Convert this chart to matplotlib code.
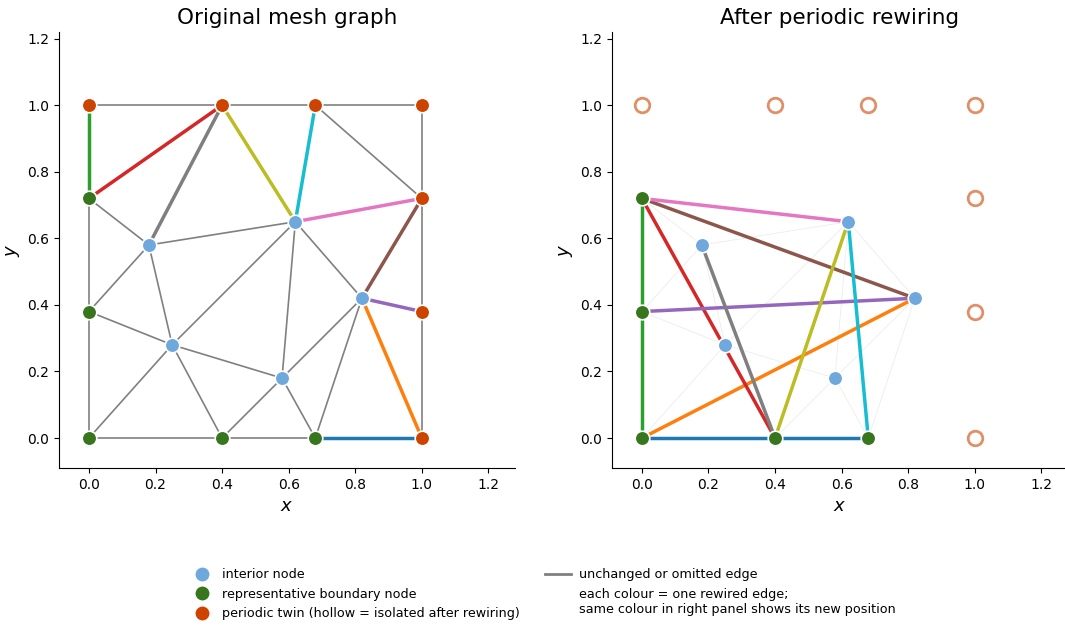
import matplotlib.pyplot as plt
from matplotlib.lines import Line2D

# node coordinates
interior = [(0.18, 0.58), (0.25, 0.28), (0.62, 0.65), (0.58, 0.18), (0.82, 0.42)]
boundary = [(0.0, 0.72), (0.0, 0.38), (0.0, 0.0), (0.40, 0.0), (0.68, 0.0)]
twins = [(0.0, 1.0), (0.40, 1.0), (0.68, 1.0), (1.0, 1.0), (1.0, 0.72), (1.0, 0.38), (1.0, 0.0)]

# plain mesh edges that survive rewiring (between interior/boundary nodes)
kept_edges = [
    ((0.0, 0.72), (0.0, 0.38)), ((0.0, 0.72), (0.18, 0.58)), ((0.18, 0.58), (0.62, 0.65)),
    ((0.18, 0.58), (0.0, 0.38)), ((0.18, 0.58), (0.25, 0.28)), ((0.0, 0.38), (0.25, 0.28)),
    ((0.0, 0.38), (0.0, 0.0)), ((0.0, 0.0), (0.25, 0.28)), ((0.0, 0.0), (0.40, 0.0)),
    ((0.25, 0.28), (0.40, 0.0)), ((0.25, 0.28), (0.62, 0.65)), ((0.25, 0.28), (0.58, 0.18)),
    ((0.40, 0.0), (0.58, 0.18)), ((0.58, 0.18), (0.62, 0.65)), ((0.58, 0.18), (0.82, 0.42)),
    ((0.58, 0.18), (0.68, 0.0)), ((0.40, 0.0), (0.68, 0.0)), ((0.62, 0.65), (0.82, 0.42)),
    ((0.68, 0.0), (0.82, 0.42)),
]
# edges between twins only (dropped after rewiring)
twin_edges = [
    ((0.0, 1.0), (0.40, 1.0)), ((0.40, 1.0), (0.68, 1.0)), ((0.68, 1.0), (1.0, 1.0)),
    ((0.68, 1.0), (1.0, 0.72)), ((1.0, 1.0), (1.0, 0.72)), ((1.0, 0.72), (1.0, 0.38)),
    ((1.0, 0.38), (1.0, 0.0)),
]
# edges that touch a twin: (node, twin, colour)
rewired = [
    ((0.68, 0.0), (1.0, 0.0), "tab:blue"),
    ((0.82, 0.42), (1.0, 0.0), "tab:orange"),
    ((0.0, 0.72), (0.0, 1.0), "tab:green"),
    ((0.0, 0.72), (0.40, 1.0), "tab:red"),
    ((0.82, 0.42), (1.0, 0.38), "tab:purple"),
    ((0.82, 0.42), (1.0, 0.72), "tab:brown"),
    ((0.62, 0.65), (1.0, 0.72), "tab:pink"),
    ((0.18, 0.58), (0.40, 1.0), "tab:gray"),
    ((0.62, 0.65), (0.40, 1.0), "tab:olive"),
    ((0.62, 0.65), (0.68, 1.0), "tab:cyan"),
]

c_int = "#6fa8dc"
c_bnd = "#38761d"
c_twin = "#cc4400"


def wrap(p):
    # periodic map: x=1 -> 0, y=1 -> 0
    x, y = p
    return (0.0 if x == 1.0 else x, 0.0 if y == 1.0 else y)


def draw_nodes(ax, pts, color):
    ax.plot([p[0] for p in pts], [p[1] for p in pts], "o", color=color, ms=10.5,
            mec="white", mew=1.2, zorder=5, ls="none")


fig = plt.figure(figsize=(10.65, 6.28), dpi=100)
ax1 = fig.add_axes([0.0554, 0.2548, 0.4282, 0.6942])
ax2 = fig.add_axes([0.5746, 0.2548, 0.4282, 0.6942])

# ---- left panel ----
for a, b in kept_edges + twin_edges:
    ax1.plot([a[0], b[0]], [a[1], b[1]], color="gray", lw=1.2, zorder=1)
for a, b, c in rewired:
    ax1.plot([a[0], b[0]], [a[1], b[1]], color=c, lw=2.5, zorder=2)
draw_nodes(ax1, interior, c_int)
draw_nodes(ax1, boundary, c_bnd)
draw_nodes(ax1, twins, c_twin)
ax1.set_title("Original mesh graph", fontsize=15.5)

# ---- right panel ----
for a, b in kept_edges:
    ax2.plot([a[0], b[0]], [a[1], b[1]], color="gray", lw=0.6, alpha=0.15, zorder=1)
for a, b, c in rewired:
    b2 = wrap(b)
    ax2.plot([a[0], b2[0]], [a[1], b2[1]], color=c, lw=2.5, zorder=2)
draw_nodes(ax2, interior, c_int)
draw_nodes(ax2, boundary, c_bnd)
ax2.plot([p[0] for p in twins], [p[1] for p in twins], "o", ms=10.5, mfc="none",
         mec=c_twin, mew=2, alpha=0.6, zorder=4, ls="none")
ax2.set_title("After periodic rewiring", fontsize=15.5)

ticks = [0.0, 0.2, 0.4, 0.6, 0.8, 1.0, 1.2]
for ax in (ax1, ax2):
    ax.set_xlim(-0.09, 1.28)
    ax.set_ylim(-0.09, 1.22)
    ax.set_xticks(ticks)
    ax.set_yticks(ticks)
    ax.set_xlabel("$x$", fontsize=13)
    ax.set_ylabel("$y$", fontsize=13)
    ax.spines["top"].set_visible(False)
    ax.spines["right"].set_visible(False)

handles = [
    Line2D([], [], marker="o", ls="none", color=c_int, mec="white", ms=11),
    Line2D([], [], marker="o", ls="none", color=c_bnd, mec="white", ms=11),
    Line2D([], [], marker="o", ls="none", color=c_twin, mec="white", ms=11),
    Line2D([], [], color="gray", lw=2),
    Line2D([], [], color="none"),
]
labels = [
    "interior node",
    "representative boundary node",
    "periodic twin (hollow = isolated after rewiring)",
    "unchanged or omitted edge",
    "each colour = one rewired edge;\nsame colour in right panel shows its new position",
]
fig.legend(handles, labels, ncol=2, loc="lower center", bbox_to_anchor=(0.509, -0.006),
           frameon=False, fontsize=9.2, columnspacing=2.0, labelspacing=0.5,
           handletextpad=0.6)

fig.savefig("out.png", dpi=100)
